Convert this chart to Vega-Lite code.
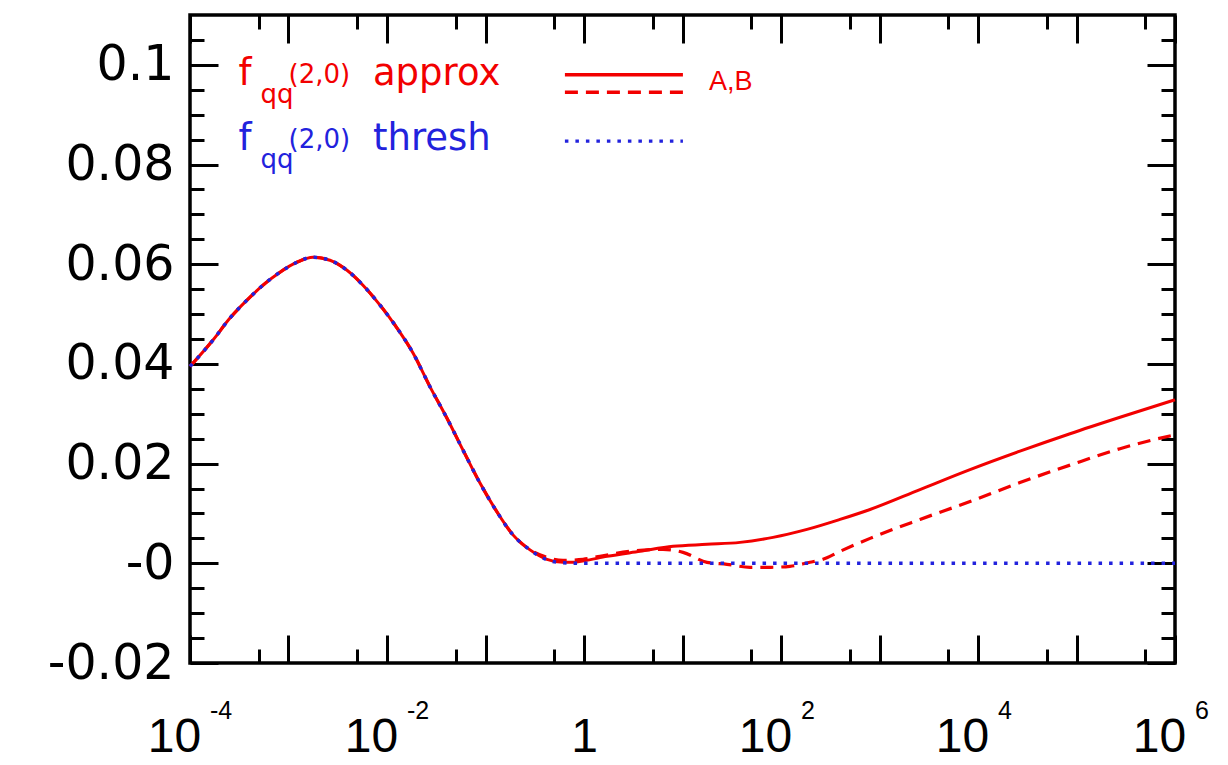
{
  "$schema": "https://vega.github.io/schema/vega-lite/v6.json",
  "width": 985,
  "height": 648,
  "autosize": {"type": "none"},
  "padding": {"left": 190, "top": 15, "right": 53, "bottom": 102},
  "background": "white",
  "config": {"view": {"stroke": "black", "strokeWidth": 3.5}},
  "datasets": {
    "curves": [
      {"x": 0.0001, "y": 0.0395, "s": "A"}, {"x": 0.0001714, "y": 0.0448, "s": "A"}, {"x": 0.0002547, "y": 0.0492, "s": "A"}, {"x": 0.0003793, "y": 0.0528, "s": "A"}, {"x": 0.0005508, "y": 0.0558, "s": "A"}, {"x": 0.00082, "y": 0.0584, "s": "A"}, {"x": 0.001219, "y": 0.0604, "s": "A"}, {"x": 0.001774, "y": 0.0614, "s": "A"}, {"x": 0.002636, "y": 0.0608, "s": "A"}, {"x": 0.003926, "y": 0.0588, "s": "A"}, {"x": 0.005702, "y": 0.0558, "s": "A"}, {"x": 0.00849, "y": 0.0518, "s": "A"}, {"x": 0.01265, "y": 0.0472, "s": "A"}, {"x": 0.01837, "y": 0.0422, "s": "A"}, {"x": 0.02735, "y": 0.0354, "s": "A"}, {"x": 0.04064, "y": 0.0291, "s": "A"}, {"x": 0.05916, "y": 0.0227, "s": "A"}, {"x": 0.0879, "y": 0.0161, "s": "A"}, {"x": 0.1309, "y": 0.0103, "s": "A"}, {"x": 0.1901, "y": 0.0057, "s": "A"}, {"x": 0.2831, "y": 0.0027, "s": "A"},
      {"x": 0.4207, "y": 0.0008, "s": "A"}, {"x": 0.6124, "y": 0.0002, "s": "A"}, {"x": 0.78, "y": 0.0002, "s": "A"}, {"x": 1.0, "y": 0.0005, "s": "A"}, {"x": 1.714, "y": 0.0014, "s": "A"}, {"x": 3.707, "y": 0.0024, "s": "A"}, {"x": 8.017, "y": 0.0034, "s": "A"}, {"x": 17.74, "y": 0.0038, "s": "A"}, {"x": 38.37, "y": 0.0042, "s": "A"}, {"x": 82.99, "y": 0.0052, "s": "A"}, {"x": 183.7, "y": 0.0068, "s": "A"}, {"x": 397.2, "y": 0.0088, "s": "A"}, {"x": 801.7, "y": 0.0108, "s": "A"}, {"x": 2576, "y": 0.0148, "s": "A"}, {"x": 8299, "y": 0.0188, "s": "A"}, {"x": 26670, "y": 0.0225, "s": "A"}, {"x": 85900, "y": 0.026, "s": "A"}, {"x": 276700, "y": 0.0293, "s": "A"}, {"x": 1000000, "y": 0.0328, "s": "A"},
      {"x": 0.0001, "y": 0.0395, "s": "B"}, {"x": 0.0001714, "y": 0.0448, "s": "B"}, {"x": 0.0002547, "y": 0.0492, "s": "B"}, {"x": 0.0003793, "y": 0.0528, "s": "B"}, {"x": 0.0005508, "y": 0.0558, "s": "B"}, {"x": 0.00082, "y": 0.0584, "s": "B"}, {"x": 0.001219, "y": 0.0604, "s": "B"}, {"x": 0.001774, "y": 0.0614, "s": "B"}, {"x": 0.002636, "y": 0.0608, "s": "B"}, {"x": 0.003926, "y": 0.0588, "s": "B"}, {"x": 0.005702, "y": 0.0558, "s": "B"}, {"x": 0.00849, "y": 0.0518, "s": "B"}, {"x": 0.01265, "y": 0.0472, "s": "B"}, {"x": 0.01837, "y": 0.0422, "s": "B"}, {"x": 0.02735, "y": 0.0354, "s": "B"}, {"x": 0.04064, "y": 0.0291, "s": "B"}, {"x": 0.05916, "y": 0.0227, "s": "B"}, {"x": 0.0879, "y": 0.0161, "s": "B"}, {"x": 0.1309, "y": 0.0103, "s": "B"}, {"x": 0.1901, "y": 0.0057, "s": "B"}, {"x": 0.2831, "y": 0.0027, "s": "B"},
      {"x": 0.4207, "y": 0.0012, "s": "B"}, {"x": 0.6124, "y": 0.0006, "s": "B"}, {"x": 0.977, "y": 0.0008, "s": "B"}, {"x": 1.452, "y": 0.0014, "s": "B"}, {"x": 2.931, "y": 0.0024, "s": "B"}, {"x": 6.339, "y": 0.0028, "s": "B"}, {"x": 10.12, "y": 0.0022, "s": "B"}, {"x": 17.74, "y": 0.0002, "s": "B"}, {"x": 28.31, "y": -0.0002, "s": "B"}, {"x": 48.42, "y": -0.0008, "s": "B"}, {"x": 77.27, "y": -0.0008, "s": "B"}, {"x": 123.3, "y": -0.0006, "s": "B"}, {"x": 196.8, "y": 0.0002, "s": "B"}, {"x": 266.7, "y": 0.0008, "s": "B"}, {"x": 397.2, "y": 0.0024, "s": "B"}, {"x": 801.7, "y": 0.005, "s": "B"}, {"x": 2576, "y": 0.0088, "s": "B"}, {"x": 8299, "y": 0.0124, "s": "B"}, {"x": 26670, "y": 0.0162, "s": "B"}, {"x": 85900, "y": 0.0197, "s": "B"}, {"x": 276700, "y": 0.023, "s": "B"}, {"x": 1000000, "y": 0.0258, "s": "B"},
      {"x": 0.0001, "y": 0.0395, "s": "T"}, {"x": 0.0001714, "y": 0.0448, "s": "T"}, {"x": 0.0002547, "y": 0.0492, "s": "T"}, {"x": 0.0003793, "y": 0.0528, "s": "T"}, {"x": 0.0005508, "y": 0.0558, "s": "T"}, {"x": 0.00082, "y": 0.0584, "s": "T"}, {"x": 0.001219, "y": 0.0604, "s": "T"}, {"x": 0.001774, "y": 0.0614, "s": "T"}, {"x": 0.002636, "y": 0.0608, "s": "T"}, {"x": 0.003926, "y": 0.0588, "s": "T"}, {"x": 0.005702, "y": 0.0558, "s": "T"}, {"x": 0.00849, "y": 0.0518, "s": "T"}, {"x": 0.01265, "y": 0.0472, "s": "T"}, {"x": 0.01837, "y": 0.0422, "s": "T"}, {"x": 0.02735, "y": 0.0354, "s": "T"}, {"x": 0.04064, "y": 0.0291, "s": "T"}, {"x": 0.05916, "y": 0.0227, "s": "T"}, {"x": 0.0879, "y": 0.0161, "s": "T"}, {"x": 0.1309, "y": 0.0103, "s": "T"}, {"x": 0.1901, "y": 0.0057, "s": "T"}, {"x": 0.2831, "y": 0.0027, "s": "T"},
      {"x": 0.4207, "y": 0.0007, "s": "T"}, {"x": 0.6124, "y": 0.0001, "s": "T"}, {"x": 0.91, "y": 0, "s": "T"}, {"x": 1000000, "y": 0, "s": "T"}
    ],
    "samples": [
      {"x": 0.64, "x2": 10.1, "y": 0.0980, "s": "approx", "d": "A"},
      {"x": 0.64, "x2": 10.1, "y": 0.0945, "s": "approx", "d": "B"},
      {"x": 0.64, "x2": 10.1, "y": 0.0847, "s": "thresh", "d": "T"}
    ],
    "mainText": [
      {"x": 0.00031, "y": 0.09595, "t": "f", "s": "approx"},
      {"x": 0.0072, "y": 0.09595, "t": "approx", "s": "approx"},
      {"x": 0.00031, "y": 0.0829, "t": "f", "s": "thresh"},
      {"x": 0.0072, "y": 0.0829, "t": "thresh", "s": "thresh"}
    ],
    "subText": [
      {"x": 0.00052, "y": 0.09234, "t": "qq", "s": "approx"},
      {"x": 0.00052, "y": 0.07929, "t": "qq", "s": "thresh"}
    ],
    "supText": [
      {"x": 0.001, "y": 0.09635, "t": "(2,0)", "s": "approx"},
      {"x": 0.001, "y": 0.0833, "t": "(2,0)", "s": "thresh"}
    ],
    "abText": [
      {"x": 18.6, "y": 0.09495, "t": "A,B", "s": "approx"}
    ],
    "exponents": [
      {"x": 0.0001, "e": "-4"},
      {"x": 0.01, "e": "-2"},
      {"x": 100, "e": "2"},
      {"x": 10000, "e": "4"},
      {"x": 1000000, "e": "6"}
    ]
  },
  "resolve": {"axis": {"x": "independent", "y": "independent"}},
  "layer": [
    {
      "data": {"name": "curves"},
      "transform": [{"filter": "datum.s == 'A'"}],
      "mark": {"type": "line", "color": "#f20000", "strokeWidth": 3, "interpolate": "monotone"},
      "encoding": {
        "x": {"field": "x", "type": "quantitative",
          "scale": {"type": "log", "domain": [0.0001, 1000000]},
          "axis": {
            "orient": "bottom", "title": null, "domain": false, "grid": false,
            "values": [0.0001, 0.0005, 0.001, 0.005, 0.01, 0.05, 0.1, 0.5, 1, 5, 10, 50, 100, 500, 1000, 5000, 10000, 50000, 100000, 500000, 1000000],
            "tickColor": "black", "tickWidth": 3,
            "tickSize": {"condition": {"test": "abs(log(datum.value)/LN10 - round(log(datum.value)/LN10)) < 0.001", "value": -28}, "value": -14},
            "labelExpr": "abs(log(datum.value)/LN10 - round(log(datum.value)/LN10)) < 0.001 && round(log(datum.value)/LN10) % 2 == 0 ? (datum.value == 1 ? '1' : '10') : ''",
            "labelFont": "Liberation Sans", "labelFontSize": 48, "labelColor": "black",
            "labelBaseline": "alphabetic", "labelPadding": 116,
            "labelOffset": {"condition": {"test": "datum.value == 1", "value": 0}, "value": -16},
            "labelFlush": false, "labelOverlap": false, "labelBound": false
          }
        },
        "y": {"field": "y", "type": "quantitative",
          "scale": {"domain": [-0.02, 0.11], "zero": false, "nice": false},
          "axis": {
            "orient": "left", "title": null, "domain": false, "grid": false,
            "values": [-0.02, -0.015, -0.01, -0.005, 0, 0.005, 0.01, 0.015, 0.02, 0.025, 0.03, 0.035, 0.04, 0.045, 0.05, 0.055, 0.06, 0.065, 0.07, 0.075, 0.08, 0.085, 0.09, 0.095, 0.1, 0.105],
            "tickColor": "black", "tickWidth": 3,
            "tickSize": {"condition": {"test": "abs(datum.value/0.02 - round(datum.value/0.02)) < 0.001", "value": -28}, "value": -14},
            "labelExpr": "abs(datum.value/0.02 - round(datum.value/0.02)) < 0.001 ? (datum.value == 0 ? '-0' : '' + datum.value) : ''",
            "labelFont": "DejaVu Sans", "labelFontSize": 49, "labelColor": "black",
            "labelPadding": 44, "labelFlush": false, "labelOverlap": false, "labelBound": false
          }
        }
      }
    },
    {
      "data": {"name": "curves"},
      "transform": [{"filter": "datum.s == 'B'"}],
      "mark": {"type": "line", "color": "#f20000", "strokeWidth": 3.2, "strokeDash": [13, 8], "interpolate": "monotone"},
      "encoding": {
        "x": {"field": "x", "type": "quantitative", "axis": null},
        "y": {"field": "y", "type": "quantitative", "axis": null}
      }
    },
    {
      "data": {"name": "curves"},
      "transform": [{"filter": "datum.s == 'T'"}],
      "mark": {"type": "line", "color": "#2222dd", "strokeWidth": 3.5, "strokeDash": [3.5, 7], "interpolate": "monotone"},
      "encoding": {
        "x": {"field": "x", "type": "quantitative",
          "axis": {
            "orient": "top", "title": null, "domain": false, "grid": false, "labels": false,
            "values": [0.0001, 0.0005, 0.001, 0.005, 0.01, 0.05, 0.1, 0.5, 1, 5, 10, 50, 100, 500, 1000, 5000, 10000, 50000, 100000, 500000, 1000000],
            "tickColor": "black", "tickWidth": 3,
            "tickSize": {"condition": {"test": "abs(log(datum.value)/LN10 - round(log(datum.value)/LN10)) < 0.001", "value": -28}, "value": -14}
          }
        },
        "y": {"field": "y", "type": "quantitative",
          "axis": {
            "orient": "right", "title": null, "domain": false, "grid": false, "labels": false,
            "values": [-0.02, -0.015, -0.01, -0.005, 0, 0.005, 0.01, 0.015, 0.02, 0.025, 0.03, 0.035, 0.04, 0.045, 0.05, 0.055, 0.06, 0.065, 0.07, 0.075, 0.08, 0.085, 0.09, 0.095, 0.1, 0.105],
            "tickColor": "black", "tickWidth": 3,
            "tickSize": {"condition": {"test": "abs(datum.value/0.02 - round(datum.value/0.02)) < 0.001", "value": -28}, "value": -14}
          }
        }
      }
    },
    {
      "data": {"name": "samples"},
      "mark": {"type": "rule", "strokeWidth": 3.4},
      "encoding": {
        "x": {"field": "x", "type": "quantitative", "axis": null},
        "x2": {"field": "x2"},
        "y": {"field": "y", "type": "quantitative", "axis": null},
        "color": {"field": "s", "type": "nominal", "scale": {"domain": ["approx", "thresh"], "range": ["#f20000", "#2222dd"]}, "legend": null},
        "strokeDash": {"field": "d", "type": "nominal", "scale": {"domain": ["A", "B", "T"], "range": [[1, 0], [13, 8], [3.5, 7]]}, "legend": null}
      }
    },
    {
      "data": {"name": "mainText"},
      "mark": {"type": "text", "align": "left", "baseline": "alphabetic", "font": "DejaVu Sans", "fontSize": 37},
      "encoding": {
        "x": {"field": "x", "type": "quantitative", "axis": null},
        "y": {"field": "y", "type": "quantitative", "axis": null},
        "text": {"field": "t"},
        "color": {"field": "s", "type": "nominal", "legend": null}
      }
    },
    {
      "data": {"name": "subText"},
      "mark": {"type": "text", "align": "left", "baseline": "alphabetic", "font": "DejaVu Sans", "fontSize": 26},
      "encoding": {
        "x": {"field": "x", "type": "quantitative", "axis": null},
        "y": {"field": "y", "type": "quantitative", "axis": null},
        "text": {"field": "t"},
        "color": {"field": "s", "type": "nominal", "legend": null}
      }
    },
    {
      "data": {"name": "supText"},
      "mark": {"type": "text", "align": "left", "baseline": "alphabetic", "font": "DejaVu Sans", "fontSize": 26},
      "encoding": {
        "x": {"field": "x", "type": "quantitative", "axis": null},
        "y": {"field": "y", "type": "quantitative", "axis": null},
        "text": {"field": "t"},
        "color": {"field": "s", "type": "nominal", "legend": null}
      }
    },
    {
      "data": {"name": "abText"},
      "mark": {"type": "text", "align": "left", "baseline": "alphabetic", "font": "Liberation Sans", "fontSize": 27},
      "encoding": {
        "x": {"field": "x", "type": "quantitative", "axis": null},
        "y": {"field": "y", "type": "quantitative", "axis": null},
        "text": {"field": "t"},
        "color": {"field": "s", "type": "nominal", "legend": null}
      }
    },
    {
      "data": {"name": "exponents"},
      "mark": {"type": "text", "align": "left", "baseline": "alphabetic", "font": "Liberation Sans", "fontSize": 25, "color": "black", "dx": 20, "dy": 56},
      "encoding": {
        "x": {"field": "x", "type": "quantitative", "axis": null},
        "y": {"datum": -0.02, "type": "quantitative", "axis": null},
        "text": {"field": "e"}
      }
    }
  ]
}
